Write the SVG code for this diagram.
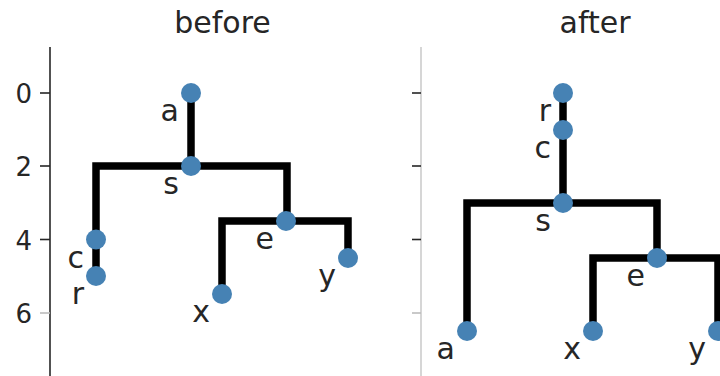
<svg xmlns="http://www.w3.org/2000/svg" width="720" height="376" viewBox="0 0 720 376">
<style>
text{font-family:"DejaVu Sans","Liberation Sans",sans-serif;fill:#262626}
.title{font-size:30px;text-anchor:middle}
.tick{font-size:26px;text-anchor:end}
.lbl{font-size:30px;text-anchor:end}
.edge{fill:none;stroke:#000;stroke-width:7.5;stroke-linecap:square;stroke-linejoin:miter}
.node circle{fill:#4682b4}
.tk{stroke:#262626;stroke-width:1.6}
</style>
<rect width="720" height="376" fill="#fff"/>
<g id="axes">
<text class="title" x="222.5" y="33">before</text>
<text class="title" x="595" y="33">after</text>
<line x1="50" y1="47" x2="50" y2="376" stroke="#262626" stroke-width="1.6"/>
<line x1="421" y1="47" x2="421" y2="376" stroke="#cccccc" stroke-width="1.6"/>
<line class="tk" x1="40" y1="93" x2="50" y2="93"/>
<line class="tk" x1="40" y1="166" x2="50" y2="166"/>
<line class="tk" x1="40" y1="239.5" x2="50" y2="239.5"/>
<line class="tk" x1="40" y1="313" x2="50" y2="313" style="stroke:#bbb"/>
<line class="tk" x1="412" y1="93" x2="421" y2="93"/>
<line class="tk" x1="412" y1="166" x2="421" y2="166"/>
<line class="tk" x1="412" y1="239.5" x2="421" y2="239.5"/>
<line class="tk" x1="412" y1="313" x2="421" y2="313" style="stroke:#bbb"/>
<text class="tick" x="32" y="103">0</text>
<text class="tick" x="32" y="176">2</text>
<text class="tick" x="32" y="249.5">4</text>
<text class="tick" x="32" y="323">6</text>
</g>
<g id="connectors">
<path class="edge" d="M191,93 V166"/>
<path class="edge" d="M96,276 V166 H287 V221"/>
<path class="edge" d="M222,294 V221 H348 V258"/>
<path class="edge" d="M563,93 V203"/>
<path class="edge" d="M467,331 V203 H657 V258"/>
<path class="edge" d="M593,331 V258 H718 V331"/>
</g>
<g id="before-a" class="node"><circle cx="191" cy="93" r="10"/><text class="lbl" x="179" y="121">a</text></g>
<g id="before-s" class="node"><circle cx="191" cy="166" r="10"/><text class="lbl" x="179" y="194">s</text></g>
<g id="before-c" class="node"><circle cx="96" cy="239.5" r="10"/><text class="lbl" x="84" y="268">c</text></g>
<g id="before-r" class="node"><circle cx="96" cy="276" r="10"/><text class="lbl" x="84" y="304">r</text></g>
<g id="before-e" class="node"><circle cx="286" cy="221" r="10"/><text class="lbl" x="274" y="249">e</text></g>
<g id="before-x" class="node"><circle cx="222" cy="294" r="10"/><text class="lbl" x="210" y="322">x</text></g>
<g id="before-y" class="node"><circle cx="348" cy="258" r="10"/><text class="lbl" x="336" y="286">y</text></g>
<g id="after-r" class="node"><circle cx="563" cy="93" r="10"/><text class="lbl" x="551" y="121">r</text></g>
<g id="after-c" class="node"><circle cx="563" cy="130" r="10"/><text class="lbl" x="551" y="158">c</text></g>
<g id="after-s" class="node"><circle cx="563" cy="203" r="10"/><text class="lbl" x="551" y="231">s</text></g>
<g id="after-a" class="node"><circle cx="467" cy="331" r="10"/><text class="lbl" x="455" y="359">a</text></g>
<g id="after-e" class="node"><circle cx="657" cy="258" r="10"/><text class="lbl" x="645" y="286">e</text></g>
<g id="after-x" class="node"><circle cx="593" cy="331" r="10"/><text class="lbl" x="581" y="359">x</text></g>
<g id="after-y" class="node"><circle cx="718" cy="331" r="10"/><text class="lbl" x="706" y="359">y</text></g>
</svg>
